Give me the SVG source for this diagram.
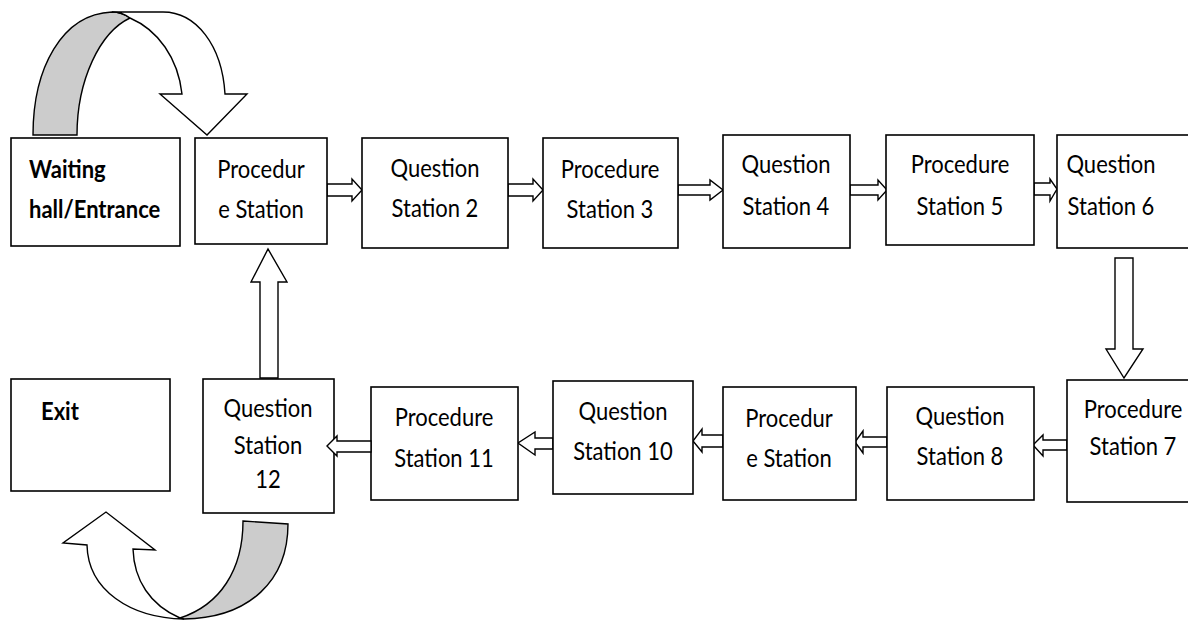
<svg xmlns="http://www.w3.org/2000/svg" width="1188" height="621" viewBox="0 0 1188 621">
<style>
.box{fill:#fff;stroke:#000;stroke-width:1.6}
.arr{fill:#fff;stroke:#000;stroke-width:1.4;stroke-linejoin:miter}
.cw{fill:#fff;stroke:#000;stroke-width:1.4}
.cg{fill:#cccccc;stroke:#000;stroke-width:1.4}
text{font-family:Lato,"Liberation Sans",sans-serif;font-size:22px;fill:#000}
.c{text-anchor:middle}
.b{font-weight:bold}
</style>
<rect width="1188" height="621" fill="#fff"/>
<g id="curve-top">
<path class="cg" d="M33,135 C33,68 62,14 112,12 C120,12 126,15 130,18 C100,32 77,80 77,135 Z"/>
<path class="cw" d="M112,12 L163,12 C196,12 222,45 225,94 L247,94 L207,135 L160,94 L182,94 C178,58 158,30 130,18 C126,15 120,12 112,12 Z"/>
</g>
<g id="curve-bottom">
<path class="cw" d="M184,619 C130,618 88,590 87,545 L63,543 L106,512 L155,550 L133,549 C134,580 150,605 180,618 Z"/>
<path class="cg" d="M243,521 L288,524 C288,580 250,618 184,619 L180,618 C220,605 243,570 243,521 Z"/>
</g>
<g id="connectors">
<path class="arr" d="M327,184 H352 V179 L362,190 L352,201 V196 H327 Z"/>
<path class="arr" d="M508,184 H533 V179 L543,190 L533,201 V196 H508 Z"/>
<path class="arr" d="M678,185 H710 V180 L723,190 L710,200 V195 H678 Z"/>
<path class="arr" d="M850,185 H878 V180 L887,190 L878,200 V195 H850 Z"/>
<path class="arr" d="M1034,183 H1050 V179 L1057,189 L1050,201 V195 H1034 Z"/>
<path class="arr" d="M1115,258 H1133 V349 H1143 L1124,378 L1106,349 H1115 Z"/>
<path class="arr" d="M1067,440 H1043 V435 L1033,445 L1043,456 V450 H1067 Z"/>
<path class="arr" d="M887,437 H863 V431 L855,442 L863,453 V447 H887 Z"/>
<path class="arr" d="M723,435 H702 V429 L693,441 L702,452 V447 H723 Z"/>
<path class="arr" d="M553,438 H535 V432 L518,443 L535,455 V449 H553 Z"/>
<path class="arr" d="M260,378 V282 H251 L268,249 L287,282 H278 V378 Z"/>
</g>
<g id="waiting"><rect class="box" x="11" y="138" width="169" height="108"/><text class="b" x="29" y="178" transform="matrix(1 0 0 1.1 0 -17.8)">Waiting</text><text class="b" x="29" y="218" transform="matrix(1 0 0 1.1 0 -21.8)">hall/Entrance</text></g>
<g id="proc1"><rect class="box" x="195" y="138" width="132" height="106"/><text class="c" x="261" y="178" transform="matrix(1 0 0 1.1 0 -17.8)">Procedur</text><text class="c" x="261" y="218" transform="matrix(1 0 0 1.1 0 -21.8)">e Station</text></g>
<g id="q2"><rect class="box" x="362" y="138" width="146" height="110"/><text class="c" x="435" y="177" transform="matrix(1 0 0 1.1 0 -17.7)">Question</text><text class="c" x="435" y="217" transform="matrix(1 0 0 1.1 0 -21.7)">Station 2</text></g>
<g id="p3"><rect class="box" x="543" y="138" width="135" height="110"/><text class="c" x="610" y="178" transform="matrix(1 0 0 1.1 0 -17.8)">Procedure</text><text class="c" x="610" y="218" transform="matrix(1 0 0 1.1 0 -21.8)">Station 3</text></g>
<g id="q4"><rect class="box" x="723" y="135" width="127" height="113"/><text class="c" x="786" y="173" transform="matrix(1 0 0 1.1 0 -17.3)">Question</text><text class="c" x="786" y="215" transform="matrix(1 0 0 1.1 0 -21.5)">Station 4</text></g>
<g id="p5"><rect class="box" x="886" y="135" width="148" height="110"/><text class="c" x="960" y="173" transform="matrix(1 0 0 1.1 0 -17.3)">Procedure</text><text class="c" x="960" y="215" transform="matrix(1 0 0 1.1 0 -21.5)">Station 5</text></g>
<g id="q6"><rect class="box" x="1057" y="135" width="150" height="113"/><text class="c" x="1111" y="173" transform="matrix(1 0 0 1.1 0 -17.3)">Question</text><text class="c" x="1111" y="215" transform="matrix(1 0 0 1.1 0 -21.5)">Station 6</text></g>
<g id="p7"><rect class="box" x="1067" y="380" width="150" height="122"/><text class="c" x="1133" y="418" transform="matrix(1 0 0 1.1 0 -41.8)">Procedure</text><text class="c" x="1133" y="455" transform="matrix(1 0 0 1.1 0 -45.5)">Station 7</text></g>
<g id="q8"><rect class="box" x="887" y="387" width="147" height="113"/><text class="c" x="960" y="425" transform="matrix(1 0 0 1.1 0 -42.5)">Question</text><text class="c" x="960" y="465" transform="matrix(1 0 0 1.1 0 -46.5)">Station 8</text></g>
<g id="p9"><rect class="box" x="723" y="387" width="133" height="113"/><text class="c" x="789" y="427" transform="matrix(1 0 0 1.1 0 -42.7)">Procedur</text><text class="c" x="789" y="467" transform="matrix(1 0 0 1.1 0 -46.7)">e Station</text></g>
<g id="q10"><rect class="box" x="553" y="381" width="140" height="113"/><text class="c" x="623" y="420" transform="matrix(1 0 0 1.1 0 -42)">Question</text><text class="c" x="623" y="460" transform="matrix(1 0 0 1.1 0 -46)">Station 10</text></g>
<g id="p11"><rect class="box" x="371" y="387" width="147" height="113"/><text class="c" x="444" y="426" transform="matrix(1 0 0 1.1 0 -42.6)">Procedure</text><text class="c" x="444" y="467" transform="matrix(1 0 0 1.1 0 -46.7)">Station 11</text></g>
<g id="q12"><rect class="box" x="203" y="379" width="131" height="134"/><text class="c" x="268" y="417" transform="matrix(1 0 0 1.1 0 -41.7)">Question</text><text class="c" x="268" y="454" transform="matrix(1 0 0 1.1 0 -45.4)">Station</text><text class="c" x="268" y="488" transform="matrix(1 0 0 1.1 0 -48.8)">12</text></g>
<g id="exit"><rect class="box" x="11" y="379" width="159" height="112"/><text class="b" x="41" y="420" transform="matrix(1 0 0 1.1 0 -42)">Exit</text></g>
<path class="arr" d="M371,441 H337 V436 L327,446 L337,456 V452 H371 Z"/>
</svg>
